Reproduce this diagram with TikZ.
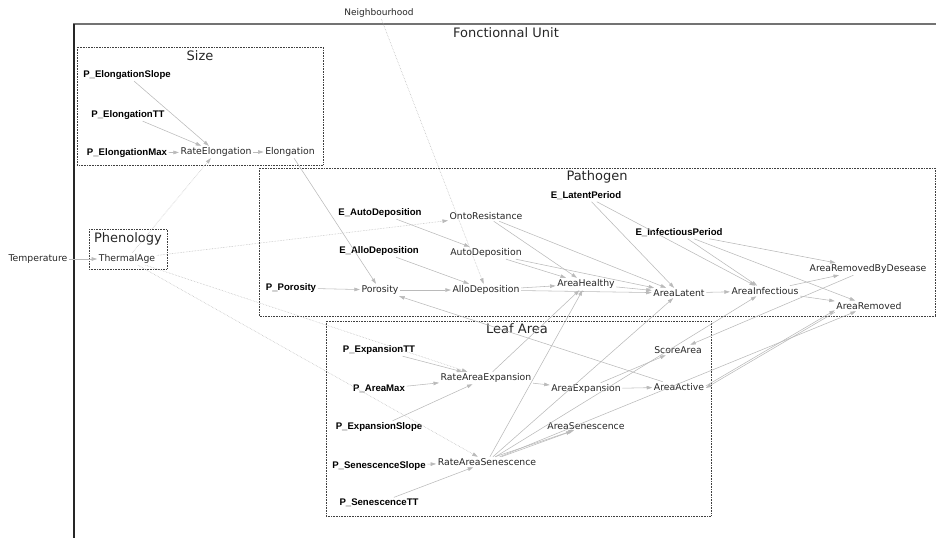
\documentclass[tikz,border=0pt]{standalone}
\usepackage{fontspec}
\setmainfont{DejaVu Sans}
\newfontfamily\parfont{Liberation Sans}
\usetikzlibrary{arrows.meta}

\begin{document}
\begin{tikzpicture}[x=1pt,y=-1pt,
 var/.style={font=\fontsize{9.3}{11}\selectfont,text=black!85,inner sep=1.5pt},
 prm/.style={font=\parfont\bfseries\fontsize{9.6}{11}\selectfont,inner sep=1.5pt},
 ttl/.style={font=\fontsize{13}{15}\selectfont,text=black!85,inner sep=0pt},
 grp/.style={draw=black!75,densely dotted,line width=0.6pt},
 lnk/.style={draw=black!27,line width=0.55pt,-{Triangle[length=5.5pt,width=3.6pt]}},
 dlnk/.style={lnk,densely dotted}]
\useasboundingbox (0,0) rectangle (936,538);
% fonctionnal unit frame
\draw[black!55,line width=1.5pt] (73,24) -- (936,24);
\draw[black!85,line width=1.1pt] (74,24) -- (74,538);
\node[ttl] (fu) at (506,33) {Fonctionnal Unit};
% groups
\draw[grp] (77,47) rectangle (323,165);
\draw[grp] (259,168) rectangle (935,316);
\draw[grp] (89,229) rectangle (167,269);
\draw[grp] (326,321) rectangle (711,516);
\node[ttl] (sizelbl) at (200,56) {Size};
\node[ttl] (phenolbl) at (128,239) {Phenology};
\node[ttl] (pathlbl) at (597,177) {Pathogen};
\node[ttl] (leaflbl) at (517,329) {Leaf Area};
% outside
\node[var,font=\fontsize{9}{10}\selectfont] (Neighbourhood) at (379,13) {Neighbourhood};
\node[var] (Temperature) at (38,259) {Temperature};
\node[var] (ThermalAge) at (127,259) {ThermalAge};
% size
\node[prm] (PElongationSlope) at (127,75) {P\_ElongationSlope};
\node[prm] (PElongationTT) at (128,115) {P\_ElongationTT};
\node[prm] (PElongationMax) at (127,153) {P\_ElongationMax};
\node[var] (RateElongation) at (216,152) {RateElongation};
\node[var] (Elongation) at (290,152) {Elongation};
% pathogen
\node[prm] (EAutoDeposition) at (380,213) {E\_AutoDeposition};
\node[prm] (EAlloDeposition) at (379,251) {E\_AlloDeposition};
\node[prm] (PPorosity) at (291,288) {P\_Porosity};
\node[var] (OntoResistance) at (486,216) {OntoResistance};
\node[var] (AutoDeposition) at (486,253) {AutoDeposition};
\node[var] (Porosity) at (380,290) {Porosity};
\node[var] (AlloDeposition) at (486,290) {AlloDeposition};
\node[var] (AreaHealthy) at (586,284) {AreaHealthy};
\node[var] (AreaLatent) at (679,293) {AreaLatent};
\node[prm] (ELatentPeriod) at (586,196) {E\_LatentPeriod};
\node[prm] (EInfectiousPeriod) at (679,233) {E\_InfectiousPeriod};
\node[var] (AreaInfectious) at (765,291) {AreaInfectious};
\node[var] (AreaRemovedByDesease) at (868,269) {AreaRemovedByDesease};
\node[var] (AreaRemoved) at (869,306) {AreaRemoved};
% leaf area
\node[prm] (PExpansionTT) at (379,350) {P\_ExpansionTT};
\node[prm] (PAreaMax) at (379,389) {P\_AreaMax};
\node[prm] (PExpansionSlope) at (379,427) {P\_ExpansionSlope};
\node[prm] (PSenescenceSlope) at (379,466) {P\_SenescenceSlope};
\node[prm] (PSenescenceTT) at (379,503) {P\_SenescenceTT};
\node[var] (RateAreaExpansion) at (486,378) {RateAreaExpansion};
\node[var] (RateAreaSenescence) at (487,462) {RateAreaSenescence};
\node[var] (AreaExpansion) at (586,389) {AreaExpansion};
\node[var] (AreaSenescence) at (586,426) {AreaSenescence};
\node[var] (ScoreArea) at (678,350) {ScoreArea};
\node[var] (AreaActive) at (679,387) {AreaActive};
% links
\foreach \a/\b in {PElongationSlope/RateElongation,PElongationTT/RateElongation,
  PElongationMax/RateElongation,RateElongation/Elongation,Temperature/ThermalAge,
  Elongation/Porosity,EAutoDeposition/AutoDeposition,EAlloDeposition/AlloDeposition,
  PPorosity/Porosity,Porosity/AlloDeposition,AlloDeposition/AreaHealthy,
  AlloDeposition/AreaLatent,AutoDeposition/AreaHealthy,AutoDeposition/AreaLatent,
  OntoResistance/AreaHealthy,OntoResistance/AreaLatent,AreaHealthy/AreaLatent,
  ELatentPeriod/AreaLatent,ELatentPeriod/AreaInfectious,EInfectiousPeriod/AreaInfectious,
  EInfectiousPeriod/AreaRemovedByDesease,EInfectiousPeriod/AreaRemoved,
  AreaLatent/AreaInfectious,AreaInfectious/AreaRemovedByDesease,AreaInfectious/AreaRemoved,
  PExpansionTT/RateAreaExpansion,PAreaMax/RateAreaExpansion,PExpansionSlope/RateAreaExpansion,
  PSenescenceSlope/RateAreaSenescence,PSenescenceTT/RateAreaSenescence,
  RateAreaExpansion/AreaExpansion,AreaExpansion/AreaActive,AreaExpansion/ScoreArea,
  RateAreaExpansion/AreaHealthy,RateAreaSenescence/AreaHealthy,RateAreaSenescence/AreaLatent,
  RateAreaSenescence/AreaInfectious,RateAreaSenescence/AreaSenescence,
  RateAreaSenescence/AreaRemoved,AreaRemovedByDesease/ScoreArea,AreaActive/Porosity} {
   \draw[lnk] (\a) -- (\b);
}
\draw[lnk] ([xshift=8pt]RateAreaSenescence.north) -- ([xshift=-12pt,yshift=1pt]AreaSenescence.south);
\draw[lnk] ([yshift=-1pt]AreaRemoved.south west) -- ([yshift=-1pt]AreaActive.east);
\draw[lnk] ([yshift=1pt]AreaActive.east) -- ([yshift=1pt]AreaRemoved.south west);
\foreach \a/\b in {ThermalAge/RateElongation,ThermalAge/OntoResistance,
  ThermalAge/RateAreaExpansion,ThermalAge/RateAreaSenescence,Neighbourhood/AlloDeposition} {
   \draw[dlnk] (\a) -- (\b);
}
\end{tikzpicture}
\end{document}
